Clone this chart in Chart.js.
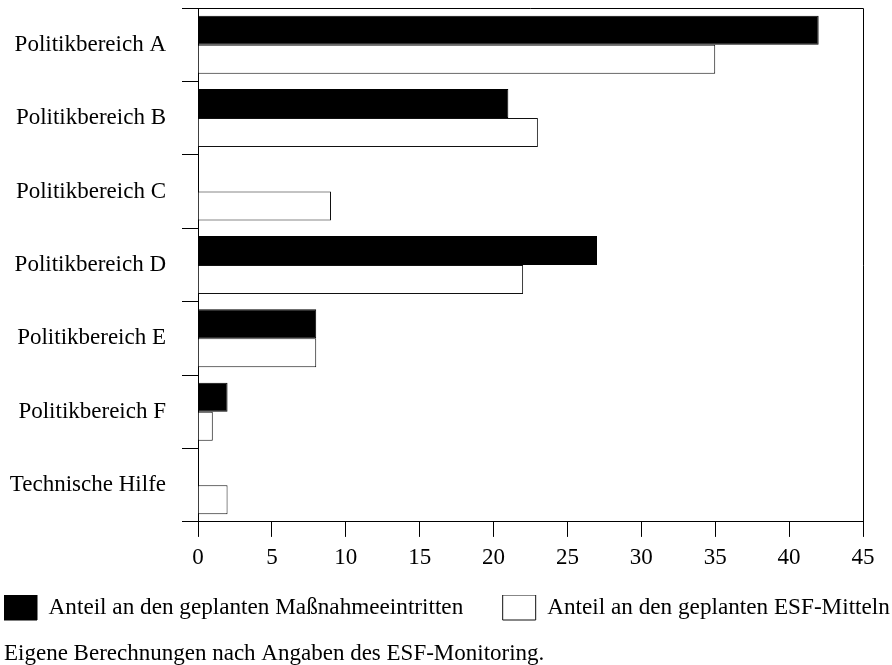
<!DOCTYPE html>
<html>
<head>
<meta charset="utf-8">
<script src="https://cdn.jsdelivr.net/npm/chart.js@4"></script>
<style>
  body { margin: 0; background: #fff; }
  #wrap { width: 892px; height: 665px; }
</style>
</head>
<body>
<div id="wrap"><canvas id="myDiagram"></canvas></div>
<script>
const categories = ['Politikbereich A', 'Politikbereich B', 'Politikbereich C', 'Politikbereich D',
    'Politikbereich E', 'Politikbereich F', 'Technische Hilfe'];
const eintritte = [42, 21, 0, 27, 8, 2, 0];
const mittel = [35, 23, 9, 22, 8, 1, 2];
const xTicks = [0, 5, 10, 15, 20, 25, 30, 35, 40, 45];
const seriesNames = ['Anteil an den geplanten Maßnahmeeintritten', 'Anteil an den geplanten ESF-Mitteln'];
const footnote = 'Eigene Berechnungen nach Angaben des ESF-Monitoring.';

const font = { family: 'Liberation Serif', size: 23 };

// frame on top and right side of the plot
const frame = {
    id: 'frame',
    afterDraw(chart) {
        const { ctx, chartArea } = chart;
        ctx.save();
        ctx.strokeStyle = '#000';
        ctx.lineWidth = 1;
        ctx.beginPath();
        ctx.moveTo(chartArea.left, Math.round(chartArea.top) + 0.5);
        ctx.lineTo(Math.round(chartArea.right) + 0.5, Math.round(chartArea.top) + 0.5);
        ctx.lineTo(Math.round(chartArea.right) + 0.5, chartArea.bottom);
        ctx.stroke();
        ctx.restore();
    }
};

const ctx = document.getElementById('myDiagram').getContext('2d');
const myChart = new Chart(ctx, {
    type: 'bar',
    data: {
        labels: categories,
        datasets: [{
            label: seriesNames[0],
            data: eintritte,
            backgroundColor: '#000',
            borderColor: '#000',
            borderWidth: 1
        }, {
            label: seriesNames[1],
            data: mittel,
            backgroundColor: '#fff',
            borderColor: '#111',
            borderWidth: 1
        }]
    },
    options: {
        indexAxis: 'y',
        responsive: true,
        maintainAspectRatio: false,
        animation: false,
        datasets: {
            bar: { categoryPercentage: 0.79, barPercentage: 1 }
        },
        layout: {
            padding: { left: 4, right: 0, top: 8, bottom: 0 }
        },
        plugins: {
            legend: {
                position: 'bottom',
                align: 'start',
                labels: {
                    color: '#000',
                    font: { family: 'Liberation Serif', size: 23.2 },
                    boxWidth: 33,
                    boxHeight: 25,
                    padding: 0,
                    generateLabels(chart) {
                        const items = Chart.defaults.plugins.legend.labels.generateLabels(chart);
                        // extra room after the first entry
                        items[0].text += '\u00a0\u00a0\u00a0\u00a0\u00a0\u00a0\u2009';
                        return items;
                    }
                }
            },
            subtitle: {
                display: true,
                text: footnote,
                position: 'bottom',
                align: 'start',
                color: '#000',
                font: { family: 'Liberation Serif', size: 23, lineHeight: 1 },
                padding: { top: 12, bottom: 0 }
            },
            tooltip: { enabled: false }
        },
        scales: {
            x: {
                min: 0,
                max: 45,
                afterBuildTicks(scale) {
                    scale.ticks = xTicks.map(v => ({ value: v }));
                },
                afterFit(scale) {
                    scale.height = 73.1;
                    scale.paddingRight = 29;
                },
                ticks: { color: '#000', font: font, padding: 7, maxRotation: 0 },
                grid: { drawOnChartArea: false, color: '#000', tickLength: 15 },
                border: { color: '#000' }
            },
            y: {
                afterFit(scale) {
                    scale.width = 194;
                    scale.paddingTop = 0;
                    scale.paddingBottom = 0;
                },
                ticks: { color: '#000', font: font, padding: 16 },
                grid: { drawOnChartArea: false, color: '#000', tickLength: 16, offset: true },
                border: { color: '#000' }
            }
        }
    },
    plugins: [frame]
});
</script>
</body>
</html>
